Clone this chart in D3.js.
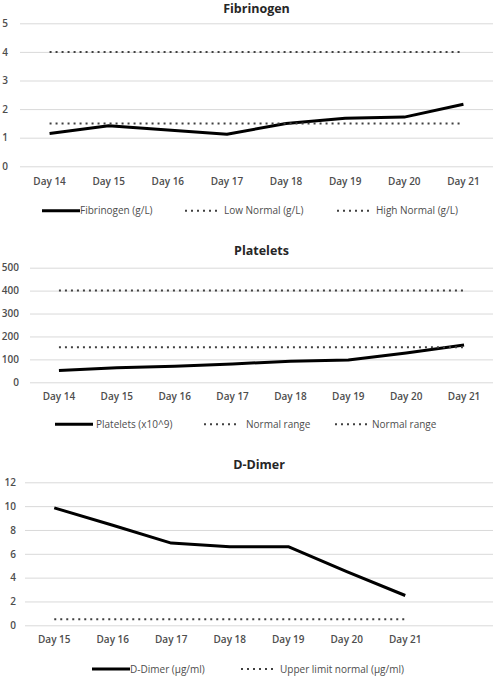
<!DOCTYPE html>
<html>
<head>
<meta charset="utf-8">
<script src="https://cdn.jsdelivr.net/npm/d3@7"></script>
<style>
  html, body { margin: 0; padding: 0; background: #fff; }
  svg { display: block; }
  text { font-family: "Open Sans", "Noto Sans", sans-serif; }
</style>
</head>
<body>
<svg id="chart" width="497" height="676"></svg>
<script>
// ---- Data ----
const fibDays = ["Day 14", "Day 15", "Day 16", "Day 17", "Day 18", "Day 19", "Day 20", "Day 21"];
const fibValues = [1.15, 1.42, 1.27, 1.12, 1.5, 1.68, 1.72, 2.17];
const fibLowNormal = [1.5, 1.5, 1.5, 1.5, 1.5, 1.5, 1.5, 1.5];
const fibHighNormal = [4, 4, 4, 4, 4, 4, 4, 4];
const fibTicks = [0, 1, 2, 3, 4, 5];

const pltDays = ["Day 14", "Day 15", "Day 16", "Day 17", "Day 18", "Day 19", "Day 20", "Day 21"];
const pltValues = [52, 64, 70, 80, 92, 97, 128, 163];
const pltNormalLow = [153, 153, 153, 153, 153, 153, 153, 153];
const pltNormalHigh = [400, 400, 400, 400, 400, 400, 400, 400];
const pltTicks = [0, 100, 200, 300, 400, 500];

const ddDays = ["Day 15", "Day 16", "Day 17", "Day 18", "Day 19", "Day 20", "Day 21", ""];
const ddValues = [9.85, 8.4, 6.9, 6.6, 6.6, 4.5, 2.5, null];
const ddUpperNormal = [0.5, 0.5, 0.5, 0.5, 0.5, 0.5, 0.5, null];
const ddTicks = [0, 2, 4, 6, 8, 10, 12];

const svg = d3.select("#chart");
const TEXT = "#4d4d4d";

function drawChart(cfg) {
  const g = svg.append("g");
  const x = d3.scaleBand().domain(cfg.categories.map((c, i) => i)).range([cfg.left, cfg.right]);
  const y = d3.scaleLinear().domain([0, d3.max(cfg.ticks)]).range([cfg.bottom, cfg.top]);

  // title
  g.append("text").attr("x", (cfg.left + cfg.right) / 2).attr("y", cfg.titleY)
    .attr("text-anchor", "middle").attr("font-size", 12.5).attr("font-weight", 700)
    .attr("fill", "#262626").text(cfg.title);

  // gridlines + y labels
  const yAxis = d3.axisLeft(y).tickValues(cfg.ticks).tickFormat(d3.format("d"))
    .tickSize(-(cfg.right - cfg.left)).tickPadding(cfg.left - cfg.labelRight);
  const ya = g.append("g").attr("transform", `translate(${cfg.left},0)`).call(yAxis);
  ya.select(".domain").remove();
  ya.selectAll(".tick line").attr("stroke", "#d9d9d9").attr("stroke-width", 1);
  ya.selectAll(".tick text").attr("fill", TEXT).attr("font-size", 10).attr("font-weight", 600);

  // x axis labels
  const xAxis = d3.axisBottom(x).tickSize(0).tickPadding(cfg.xLabelY - cfg.bottom).tickFormat(i => cfg.categories[i]);
  const xa = g.append("g").attr("transform", `translate(0,${cfg.bottom})`).call(xAxis);
  xa.select(".domain").remove();
  xa.selectAll(".tick text").attr("fill", TEXT).attr("font-size", 10).attr("font-weight", 600);

  const line = d3.line()
    .defined(d => d.v != null)
    .x(d => x(d.i) + x.bandwidth() / 2)
    .y(d => y(d.v));

  cfg.series.forEach(s => {
    const pts = s.values.map((v, i) => ({ i, v }));
    const p = g.append("path").datum(pts).attr("d", line).attr("fill", "none");
    if (s.dotted) {
      p.attr("stroke", "#404040").attr("stroke-width", 2).attr("stroke-dasharray", "2,4");
    } else {
      p.attr("stroke", "#000").attr("stroke-width", 3).attr("stroke-linejoin", "round");
    }
  });

  // legend
  cfg.series.forEach(s => {
    const lg = g.append("g");
    const ln = lg.append("line").attr("x1", s.lx1).attr("x2", s.lx2)
      .attr("y1", cfg.legendY).attr("y2", cfg.legendY);
    if (s.dotted) ln.attr("stroke", "#404040").attr("stroke-width", 2).attr("stroke-dasharray", "2,4");
    else ln.attr("stroke", "#000").attr("stroke-width", 3);
    lg.append("text").attr("x", s.tx).attr("y", cfg.legendY).attr("dy", "0.35em")
      .attr("font-size", 10).attr("fill", TEXT).text(s.name);
  });
}

drawChart({
  title: "Fibrinogen", titleY: 13,
  categories: fibDays, ticks: fibTicks,
  left: 20, right: 493, top: 23.3, bottom: 166.3, labelRight: 8, xLabelY: 178,
  legendY: 210.7,
  series: [
    { name: "Fibrinogen (g/L)", values: fibValues, lx1: 42, lx2: 80, tx: 80 },
    { name: "Low Normal (g/L)", values: fibLowNormal, dotted: true, lx1: 185, lx2: 219, tx: 224 },
    { name: "High Normal (g/L)", values: fibHighNormal, dotted: true, lx1: 337, lx2: 371, tx: 376 }
  ]
});

drawChart({
  title: "Platelets", titleY: 255,
  categories: pltDays, ticks: pltTicks,
  left: 30, right: 493, top: 267.7, bottom: 382.3, labelRight: 19, xLabelY: 393,
  legendY: 424.3,
  series: [
    { name: "Platelets (x10^9)", values: pltValues, lx1: 55, lx2: 93, tx: 96 },
    { name: "Normal range", values: pltNormalLow, dotted: true, lx1: 204, lx2: 238, tx: 246 },
    { name: "Normal range", values: pltNormalHigh, dotted: true, lx1: 335, lx2: 369, tx: 372 }
  ]
});

drawChart({
  title: "D-Dimer", titleY: 469,
  categories: ddDays, ticks: ddTicks,
  left: 25, right: 493, top: 482.3, bottom: 625.3, labelRight: 16, xLabelY: 636,
  legendY: 669,
  series: [
    { name: "D-Dimer (µg/ml)", values: ddValues, lx1: 92, lx2: 130, tx: 130 },
    { name: "Upper limit normal (µg/ml)", values: ddUpperNormal, dotted: true, lx1: 241, lx2: 275, tx: 280 }
  ]
});
</script>
</body>
</html>
